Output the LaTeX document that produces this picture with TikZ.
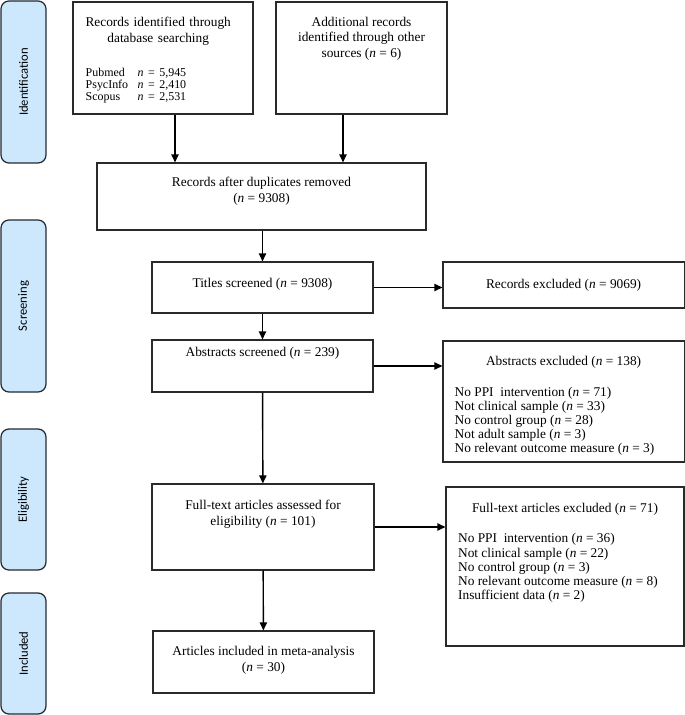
\documentclass[tikz,border=0pt]{standalone}
\usepackage{fontspec}
\setmainfont{Liberation Serif}
\newfontfamily\stagefont{Carlito}
\usetikzlibrary{arrows.meta}
\definecolor{stagefill}{HTML}{CDE8FD}
\definecolor{stageline}{HTML}{222B33}
\definecolor{boxline}{HTML}{2A2A2A}

\begin{document}
\begin{tikzpicture}[
    stage/.style={draw=stageline, fill=stagefill, line width=0.9pt, rounded corners=0.2cm,
      rotate=90, minimum height=1.125cm, font=\stagefont\fontsize{9}{11}\selectfont},
    box/.style={draw=boxline, line width=0.8pt, inner sep=0pt},
    txt/.style={inner sep=0pt, align=center, font=\fontsize{9.5}{11.2}\selectfont},
    lst/.style={inner sep=0pt, align=left, font=\fontsize{9.5}{10}\selectfont},
    flow/.style={line width=1pt, -{Triangle[length=0.2cm,width=0.18cm]}}
  ]
    \useasboundingbox (0,0) rectangle (17.125,-17.875);

    \node[stage, minimum width=4.05cm] (ident) at (0.5875,-2.05) {Identification};
    \node[stage, minimum width=4.3cm] (screen) at (0.5875,-7.65) {Screening};
    \node[stage, minimum width=3.525cm] (elig) at (0.5875,-12.4875) {Eligibility};
    \node[stage, minimum width=3.025cm] (incl) at (0.5875,-16.3375) {Included};

    \node[box, minimum width=4.5cm, minimum height=2.8cm] (dbsearch) at (4.075,-1.45) {};
    \node[txt, anchor=north west, text width=3.825cm, align=left] (dbsearcht)
      at ([xshift=0.225cm, yshift=-0.38cm]dbsearch.north west)
      {{\noindent\centering Records identified through\\ database searching\par}
       \fontsize{8.5}{8.5}\selectfont
       \vspace{13.5pt}\noindent\hspace*{0.1cm}%
       \begin{tabular}[t]{@{}p{1.3cm}@{}l@{}}
         Pubmed & \textit{n} = 5,945\\
         PsycInfo & \textit{n} = 2,410\\
         Scopus & \textit{n} = 2,531
       \end{tabular}};

    \node[box, minimum width=4.275cm, minimum height=2.8cm] (other) at (9.0375,-1.45) {};
    \node[txt, anchor=north] (othert) at ([yshift=-0.38cm]other.north)
      {Additional records\\ identified through other\\ sources (\textit{n} = 6)};

    \node[box, minimum width=8.225cm, minimum height=1.675cm] (dup) at (6.5375,-4.9125) {};
    \node[txt, anchor=north] (dupt) at ([yshift=-0.355cm]dup.north)
      {Records after duplicates removed\\ (\textit{n} = 9308)};

    \node[box, minimum width=5.525cm, minimum height=1.275cm] (titles) at (6.5625,-7.1875) {};
    \node[txt, anchor=north] (titlest) at ([yshift=-0.42cm]titles.north)
      {Titles screened (\textit{n} = 9308)};

    \node[box, minimum width=5.525cm, minimum height=1.3cm] (abstracts) at (6.5625,-9.15) {};
    \node[txt, anchor=north] (abstractst) at ([yshift=-0.18cm]abstracts.north)
      {Abstracts screened (\textit{n} = 239)};

    \node[box, minimum width=5.55cm, minimum height=2.15cm] (fulltext) at (6.575,-13.175) {};
    \node[txt, anchor=north] (fulltextt) at ([yshift=-0.415cm]fulltext.north)
      {Full-text articles assessed for\\ eligibility (\textit{n} = 101)};

    \node[box, minimum width=5.525cm, minimum height=1.55cm] (included) at (6.5875,-16.55) {};
    \node[txt, anchor=north] (includedt) at ([yshift=-0.39cm]included.north)
      {Articles included in meta-analysis\\ (\textit{n} = 30)};

    \node[box, txt, minimum width=6.03cm, minimum height=1.15cm] (recexcl) at (14.09,-7.125)
      {Records excluded (\textit{n} = 9069)};

    \node[box, minimum width=6.03cm, minimum height=3.025cm] (absexcl) at (14.09,-10.0375) {};
    \node[txt, anchor=north] (absexclt) at ([yshift=-0.40cm]absexcl.north)
      {Abstracts excluded (\textit{n} = 138)};
    \node[lst, anchor=north west] (absexcll) at ([xshift=0.3cm, yshift=-1.155cm]absexcl.north west)
      {No PPI~ intervention (\textit{n} = 71)\\
       Not clinical sample (\textit{n} = 33)\\
       No control group (\textit{n} = 28)\\
       Not adult sample (\textit{n} = 3)\\
       No relevant outcome measure (\textit{n} = 3)};

    \node[box, minimum width=5.95cm, minimum height=3.975cm] (ftexcl) at (14.125,-14.1625) {};
    \node[txt, anchor=north] (ftexclt) at ([yshift=-0.425cm]ftexcl.north)
      {Full-text articles excluded (\textit{n} = 71)};
    \node[lst, anchor=north west] (ftexcll) at ([xshift=0.31cm, yshift=-1.175cm]ftexcl.north west)
      {No PPI~ intervention (\textit{n} = 36)\\
       Not clinical sample (\textit{n} = 22)\\
       No control group (\textit{n} = 3)\\
       No relevant outcome measure (\textit{n} = 8)\\
       Insufficient data (\textit{n} = 2)};

    \coordinate (dbout) at ([xshift=0.3cm]dbsearch.south);
    \coordinate (otherout) at ([xshift=-0.4625cm]other.south);

    \draw[flow] (dbout) -- (dbout |- dup.north);
    \draw[flow] (otherout) -- (otherout |- dup.north);
    \draw[flow] (titles.north |- dup.south) -- (titles.north);
    \draw[flow] (titles) -- (abstracts);
    \draw[flow] (abstracts) -- (fulltext);
    \draw[flow] (fulltext) -- (included);

    \draw[flow] (titles.east) -- (titles.east -| recexcl.west);
    \draw[flow] (abstracts.east) -- (abstracts.east -| absexcl.west);
    \draw[flow] (fulltext.east) -- (fulltext.east -| ftexcl.west);
  \end{tikzpicture}
\end{document}
